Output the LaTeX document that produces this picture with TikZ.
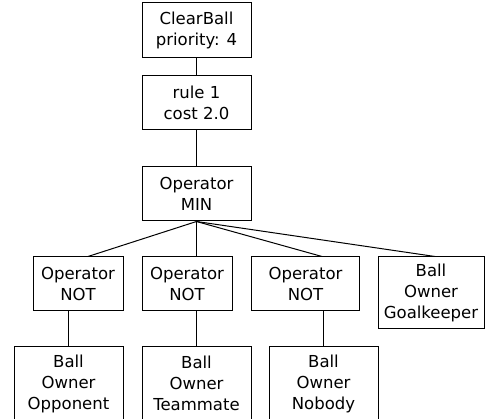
\documentclass[tikz,border=0pt]{standalone}
\usepackage{fontspec}
\setmainfont{DejaVu Sans}
\begin{document}
\begin{tikzpicture}[x=1pt,y=-1pt,
  box/.style={draw,line width=1pt,inner sep=0pt,align=center,
    font=\fontsize{16.5}{21}\selectfont},
  edge/.style={line width=1pt}]
\clip (0,0) rectangle (485,419);
\node[box,minimum width=109pt,minimum height=55pt] (cb) at (196.5,30.5) {ClearBall\\priority: 4};
\node[box,minimum width=109pt,minimum height=54pt] (r1) at (196.5,103) {rule 1\\cost 2.0};
\node[box,minimum width=109pt,minimum height=54pt] (min) at (196.5,194) {Operator\\MIN};
\node[box,minimum width=90pt,minimum height=54pt] (not1) at (78,284) {Operator\\NOT};
\node[box,minimum width=90pt,minimum height=54pt] (not2) at (187,284) {Operator\\NOT};
\node[box,minimum width=108pt,minimum height=54pt] (not3) at (305.5,284) {Operator\\NOT};
\node[box,minimum width=106pt,minimum height=72pt] (gk) at (431,293) {Ball\\Owner\\Goalkeeper};
\node[box,minimum width=109pt,minimum height=73pt] (opp) at (68.5,383.5) {Ball\\Owner\\Opponent};
\node[box,minimum width=109pt,minimum height=73pt] (team) at (196.5,383.5) {Ball\\Owner\\Teammate};
\node[box,minimum width=109pt,minimum height=73pt] (nob) at (323.5,383.5) {Ball\\Owner\\Nobody};
\draw[edge] (cb) -- (r1);
\draw[edge] (r1) -- (min);
\draw[edge] (min.south) -- ([xshift=10pt]not1.north);
\draw[edge] (min.south) -- (min.south |- not2.north);
\draw[edge] (min.south) -- ([xshift=16.5pt]not3.north);
\draw[edge] (min.south) -- ([xshift=4pt]gk.north);
\draw[edge] (opp.north) -- (opp.north |- not1.south);
\draw[edge] (team.north) -- (team.north |- not2.south);
\draw[edge] (nob.north) -- (nob.north |- not3.south);
\end{tikzpicture}
\end{document}
